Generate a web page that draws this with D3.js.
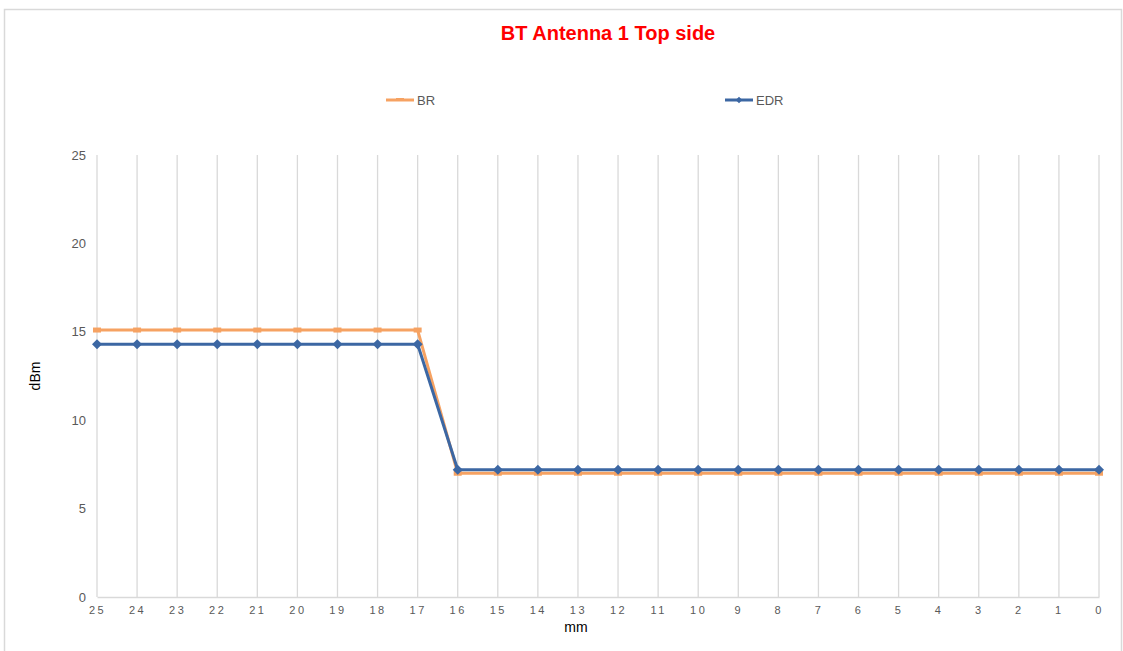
<!DOCTYPE html>
<html><head><meta charset="utf-8">
<script src="https://cdn.jsdelivr.net/npm/d3@7"></script>
<style>body{margin:0;background:#fff;}svg{display:block;font-family:"Liberation Sans",Arial,sans-serif;}</style>
</head><body>
<svg id="c" width="1123" height="651"></svg>
<script>
const categories = ["25","24","23","22","21","20","19","18","17","16","15","14","13","12","11","10","9","8","7","6","5","4","3","2","1","0"];
const brValues  = [15.1,15.1,15.1,15.1,15.1,15.1,15.1,15.1,15.1,7.0,7.0,7.0,7.0,7.0,7.0,7.0,7.0,7.0,7.0,7.0,7.0,7.0,7.0,7.0,7.0,7.0];
const edrValues = [14.3,14.3,14.3,14.3,14.3,14.3,14.3,14.3,14.3,7.2,7.2,7.2,7.2,7.2,7.2,7.2,7.2,7.2,7.2,7.2,7.2,7.2,7.2,7.2,7.2,7.2];
const yTicks = [0,5,10,15,20,25];
const series = [
  {name:"BR", values:brValues, color:"#F6A262", marker:"dash"},
  {name:"EDR", values:edrValues, color:"#3C67A3", marker:"diamond"}
];

const svg = d3.select("#c");
svg.append("rect").attr("x",4.5).attr("y",9.5).attr("width",1117).attr("height",660)
  .attr("fill","#fff").attr("stroke","#d9d9d9").attr("stroke-width",1.5);

const x = d3.scalePoint().domain(categories).range([97,1099]);
const y = d3.scaleLinear().domain([0,25]).range([597,155]);

// vertical gridlines
svg.append("g").selectAll("line").data(categories).join("line")
  .attr("x1",d=>x(d)).attr("x2",d=>x(d)).attr("y1",y(25)).attr("y2",y(0))
  .attr("stroke","#d9d9d9").attr("stroke-width",1.3);

// x axis
const xa = svg.append("g").attr("transform",`translate(0,${y(0)})`)
  .call(d3.axisBottom(x).tickSize(0).tickPadding(9));
xa.select(".domain").attr("stroke","#d9d9d9").attr("stroke-width",1.5);
xa.selectAll("text").attr("fill","#595959").attr("font-size",11).attr("letter-spacing","2.5px")
  .attr("font-family","Liberation Sans, Arial, sans-serif");

// y axis
const ya = svg.append("g").attr("transform",`translate(86,0)`)
  .call(d3.axisLeft(y).tickValues(yTicks).tickSize(0).tickPadding(0));
ya.select(".domain").remove();
ya.selectAll("text").attr("fill","#595959").attr("font-size",13)
  .attr("font-family","Liberation Sans, Arial, sans-serif");

// lines
const line = d3.line().x((d,i)=>x(categories[i])).y(d=>y(d));
const diamond = d3.symbol(d3.symbolSquare,50)();
series.forEach(s=>{
  svg.append("path").datum(s.values).attr("d",line).attr("fill","none")
    .attr("stroke",s.color).attr("stroke-width",3).attr("stroke-linejoin","round");
  const g = svg.append("g");
  s.values.forEach((v,i)=>{
    if(s.marker==="diamond"){
      g.append("path").attr("d",diamond)
        .attr("transform",`translate(${x(categories[i])},${y(v)}) rotate(45)`).attr("fill",s.color);
    } else {
      g.append("rect").attr("x",x(categories[i])-4).attr("y",y(v)-2.5).attr("width",8).attr("height",5)
        .attr("fill",s.color);
    }
  });
});

// title
svg.append("text").attr("x",608).attr("y",40).attr("text-anchor","middle")
  .attr("fill","#FF0000").attr("font-weight","bold").attr("font-size",20).text("BT Antenna 1 Top side");

// legend
const legendX = [386,725];
series.forEach((s,i)=>{
  const lx = legendX[i];
  svg.append("line").attr("x1",lx).attr("x2",lx+28).attr("y1",100).attr("y2",100)
    .attr("stroke",s.color).attr("stroke-width",3);
  if(s.marker==="diamond"){
    svg.append("path").attr("d",d3.symbol(d3.symbolSquare,22)()).attr("transform",`translate(${lx+14},100) rotate(45)`).attr("fill",s.color);
  } else {
    svg.append("rect").attr("x",lx+10).attr("y",98).attr("width",8).attr("height",3).attr("fill",s.color);
  }
  svg.append("text").attr("x",lx+31).attr("y",104.5).attr("fill","#595959").attr("font-size",13).text(s.name);
});

// axis titles
svg.append("text").attr("x",576).attr("y",632).attr("text-anchor","middle").attr("fill","#000").attr("font-size",14).text("mm");
svg.append("text").attr("transform","translate(40,376) rotate(-90)").attr("text-anchor","middle").attr("fill","#000").attr("font-size",14).text("dBm");
</script>
</body></html>
